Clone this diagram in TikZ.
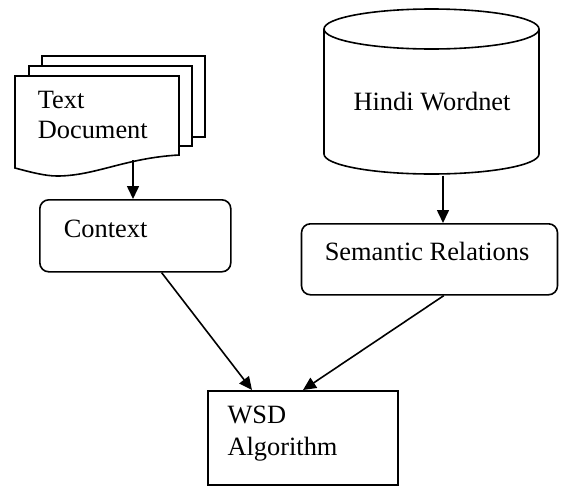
\documentclass[tikz,border=0pt]{standalone}
\usepackage{fontspec}
\setmainfont{Liberation Serif}
\usetikzlibrary{arrows.meta,calc}
\begin{document}
\begin{tikzpicture}[x=1pt,y=-1pt,line width=1.6pt,
  lbl/.style={font=\fontsize{26.4}{30}\selectfont,inner sep=0pt,align=left},
  roundbox/.style={draw,rounded corners=9pt,inner sep=0pt},
  plainbox/.style={draw,line width=2.4pt,inner sep=0pt},
  arr/.style={-{Triangle[length=13pt,width=12pt]},line width=1.6pt},
  sheet/.style={draw,fill=white,line join=miter}]
\useasboundingbox (0,0) rectangle (564,485);

% stacked documents
\draw[sheet] (41.7,55.7) rectangle (205,136.7);
\draw[sheet] (29,66) rectangle (191.7,146);
\draw[sheet] (15,76) -- (179,76) -- (179,155)
  .. controls (125,158) and (95,176) .. (57,176)
  .. controls (45,176) and (30,172) .. (15,168) -- cycle;
\node[lbl,anchor=north west] (doc) at (37,90.5) {Text\\Document};
\coordinate (docout) at (133,160);

% database cylinder
\draw[fill=white] (324,29) -- (324,154) arc[start angle=180,end angle=360,x radius=107.5,y radius=-20]
  -- (539,29) arc[start angle=0,end angle=180,x radius=107.5,y radius=-20] -- cycle;
\draw (324,29) arc[start angle=180,end angle=360,x radius=107.5,y radius=-20];
\node[inner sep=0pt,minimum width=215pt,minimum height=165pt,anchor=north] (wordnet) at (431.5,9) {};
\node[lbl,anchor=base] (wntext) at (432,110) {Hindi Wordnet};

% context box
\node[roundbox,anchor=north west,minimum width=191pt,minimum height=72pt] (ctx) at (39,199) {};
\node[lbl,anchor=base west] (ctxtext) at (63,237) {Context};

% semantic relations box
\node[roundbox,anchor=north west,minimum width=256pt,minimum height=71pt] (sem) at (300.7,223) {};
\node[lbl,anchor=base west] (semtext) at (324,260) {Semantic Relations};

% algorithm box
\node[plainbox,anchor=north west,minimum width=190pt,minimum height=94pt] (wsd) at (206.7,390) {};
\node[lbl,font=\fontsize{26.4}{32}\selectfont,anchor=north west] (wsdtext) at (226.7,405.5) {WSD\\Algorithm};

% connectors
\draw[arr] (docout) -- (docout |- ctx.north);
\draw[arr] ([xshift=11.5pt]wordnet.south) -- ([xshift=11.5pt]wordnet.south |- sem.north);
\draw[arr] ([xshift=-70pt]ctx.south east) -- ([xshift=45.3pt]wsd.north west);
\draw[arr] ([xshift=14.3pt]sem.south) -- ([xshift=96.3pt]wsd.north west);
\end{tikzpicture}
\end{document}
